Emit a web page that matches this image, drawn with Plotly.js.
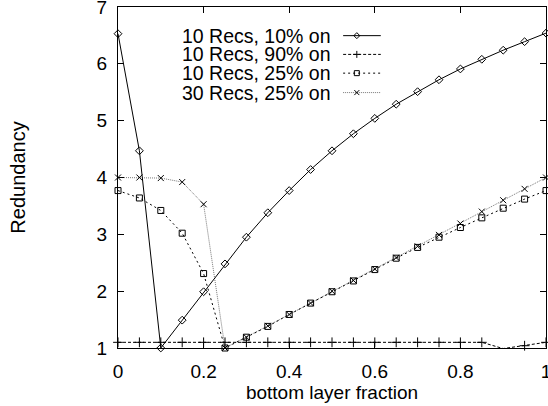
<!DOCTYPE html>
<html><head><meta charset="utf-8">
<script src="https://cdn.plot.ly/plotly-3.0.1.min.js"></script>
<style>html,body{margin:0;padding:0;background:#fff}#c{width:548px;height:406px}</style>
</head><body><div id="c"></div>
<script>
const xFrac = [0,0.05,0.1,0.15,0.2,0.25,0.3,0.35,0.4,0.45,0.5,0.55,0.6,0.65,0.7,0.75,0.8,0.85,0.9,0.95,1.0];
const rec10_10 = [6.53,4.47,1.0,1.49,1.99,2.48,2.95,3.38,3.77,4.14,4.47,4.77,5.04,5.29,5.51,5.72,5.91,6.08,6.24,6.39,6.54];
const rec10_90 = [1.1,1.1,1.1,1.1,1.1,1.1,1.1,1.1,1.1,1.1,1.1,1.1,1.1,1.1,1.1,1.1,1.1,1.1,0.99,1.04,1.1];
const rec10_25 = [3.77,3.64,3.42,3.02,2.31,1.0,1.19,1.38,1.59,1.79,1.99,2.18,2.38,2.58,2.77,2.95,3.12,3.29,3.46,3.62,3.77];
const rec30_25 = [4.0,4.0,3.99,3.92,3.53,1.0,1.19,1.39,1.59,1.79,2.0,2.19,2.39,2.59,2.79,2.99,3.19,3.40,3.60,3.80,4.0];
const seriesNames = ['10 Recs, 10% on','10 Recs, 90% on','10 Recs, 25% on','30 Recs, 25% on'];
const yTicks = [1,2,3,4,5,6,7];
const xTicks = [0,0.2,0.4,0.6,0.8,1];
const xTickText = ['0','0.2','0.4','0.6','0.8','1'];

const FONT = 'Liberation Sans, Arial, Helvetica, sans-serif';
const styles = [
  {color:'#000', dash:'solid', width:1, symbol:'diamond-open', size:6},
  {color:'#000', dash:'3px,2px', width:1, symbol:'cross-thin-open', size:7},
  {color:'#000', dash:'2px,3px', width:1, symbol:'square-open', size:6},
  {color:'#777', dash:'1px,1px', width:1, symbol:'x-thin-open', size:6}
];
const ys = [rec10_10, rec10_90, rec10_25, rec30_25];
const traces = ys.map((y,i)=>({
  x: xFrac, y: y, type:'scatter', mode:'lines+markers', name: seriesNames[i],
  line:{color:styles[i].color, dash:styles[i].dash, width:styles[i].width},
  marker:{symbol:styles[i].symbol, size:styles[i].size, color:'#000', line:{color:'#000', width:1}},
  cliponaxis:false, showlegend:false
})).reverse();

// gnuplot-style key (text left, sample right)
const legY = [0.916, 0.861, 0.806, 0.749];
const annotations = [], shapes = [];
const markerPaths = [
  'M0,3L3,0L0,-3L-3,0Z',
  'M-3.5,0L3.5,0M0,-3.5L0,3.5',
  'M-2.5,-2.5L2.5,-2.5L2.5,2.5L-2.5,2.5Z',
  'M-2.5,-2.5L2.5,2.5M-2.5,2.5L2.5,-2.5'
];
seriesNames.forEach((n,i)=>{
  annotations.push({xref:'paper', yref:'paper', x:0.502, y:legY[i], xanchor:'right', yanchor:'middle',
    text:n, showarrow:false, font:{family:FONT, size:19.5, color:'#000'}});
  shapes.push({type:'line', xref:'paper', yref:'paper', x0:0.526, x1:0.614, y0:legY[i], y1:legY[i],
    line:{color:styles[i].color, dash:styles[i].dash, width:1}});
  shapes.push({type:'path', xref:'paper', yref:'paper', xsizemode:'pixel', ysizemode:'pixel',
    xanchor:0.558, yanchor:legY[i], path:markerPaths[i], line:{color:'#000', width:1}, fillcolor:'rgba(0,0,0,0)'});
});

const layout = {
  width:548, height:406,
  margin:{l:118, r:2, t:7, b:58},
  paper_bgcolor:'#fff', plot_bgcolor:'#fff',
  font:{family:FONT, size:19, color:'#000'},
  showlegend:false,
  xaxis:{range:[0,1], tickvals:xTicks, ticktext:xTickText, ticks:'inside', ticklen:6, tickcolor:'#000',
    showline:true, linecolor:'#000', linewidth:1, mirror:'ticks', showgrid:false,
    zeroline:true, zerolinecolor:'#333', zerolinewidth:2.5, ticklabeloverflow:'allow',
    ticklabelstandoff:6,
    title:{text:'bottom layer fraction', font:{family:FONT, size:19}, standoff:0},
    tickfont:{family:FONT, size:19}},
  yaxis:{range:[1,7], tickvals:yTicks, ticks:'inside', ticklen:6, tickcolor:'#000',
    showline:true, linecolor:'#000', linewidth:1, mirror:'ticks', showgrid:false, zeroline:false,
    ticklabeloverflow:'allow', ticklabelstandoff:6,
    title:{text:'Redundancy', font:{family:FONT, size:20}, standoff:65},
    tickfont:{family:FONT, size:19}},
  annotations: annotations, shapes: shapes
};
Plotly.newPlot('c', traces, layout, {displayModeBar:false, staticPlot:true});
</script></body></html>
